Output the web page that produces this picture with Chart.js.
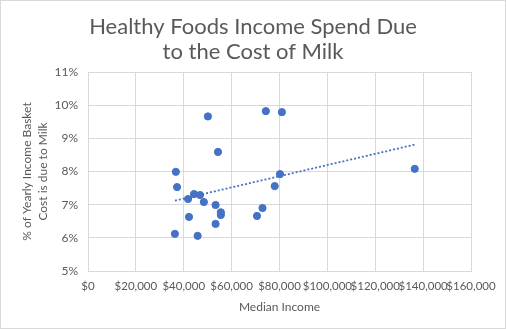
<!DOCTYPE html>
<html>
<head>
<meta charset="utf-8">
<script src="https://cdn.jsdelivr.net/npm/chart.js@4.4.0/dist/chart.umd.min.js"></script>
<style>
  html, body { margin: 0; padding: 0; background: #fff; }
  canvas { display: block; }
</style>
</head>
<body>
<canvas id="chart" width="506" height="329"></canvas>
<script>
// median income per area
const incomes = [50100, 54300, 36700, 37200, 44300, 46800, 41800, 48400, 53300, 55500, 55500, 42200, 53300, 36300, 45800, 70600, 72900, 74300, 81000, 80200, 78000, 136500];
// share of yearly income basket cost due to milk (%)
const milkShare = [9.66, 8.59, 7.99, 7.53, 7.32, 7.29, 7.17, 7.08, 6.99, 6.77, 6.69, 6.63, 6.42, 6.12, 6.06, 6.66, 6.90, 9.82, 9.79, 7.92, 7.56, 8.08];

const xTicks = [0, 20000, 40000, 60000, 80000, 100000, 120000, 140000, 160000];
const yTicks = [5, 6, 7, 8, 9, 10, 11];

const txt = "#595959";
const grid = "#d9d9d9";
const blue = "#4472C4";

const points = incomes.map((x, i) => ({ x: x, y: milkShare[i] }));

// linear trendline (least squares), like the spreadsheet one
function trend(xs, ys) {
  const n = xs.length;
  const mx = xs.reduce((a, b) => a + b, 0) / n;
  const my = ys.reduce((a, b) => a + b, 0) / n;
  let sxy = 0, sxx = 0;
  for (let i = 0; i < n; i++) {
    sxy += (xs[i] - mx) * (ys[i] - my);
    sxx += (xs[i] - mx) * (xs[i] - mx);
  }
  const b = sxy / sxx;
  const a = my - b * mx;
  const lo = Math.min(...xs), hi = Math.max(...xs);
  return [{ x: lo, y: a + b * lo }, { x: hi, y: a + b * hi }];
}

const frame = {
  id: "frame",
  beforeDraw(chart) {
    const c = chart.ctx;
    c.save();
    c.fillStyle = "#fff";
    c.fillRect(0, 0, chart.width, chart.height);
    c.strokeStyle = grid;
    c.lineWidth = 1;
    c.strokeRect(0.5, 0.5, chart.width - 1, chart.height - 1);
    c.restore();
  }
};

new Chart(document.getElementById("chart"), {
  type: "scatter",
  data: {
    datasets: [
      {
        label: "Milk",
        data: points,
        backgroundColor: blue,
        borderColor: blue,
        pointRadius: 3.6,
        pointHoverRadius: 3.6
      },
      {
        type: "line",
        label: "Trend",
        data: trend(incomes, milkShare),
        borderColor: blue,
        borderWidth: 1.8,
        borderDash: [2, 2],
        pointRadius: 0,
        fill: false
      }
    ]
  },
  options: {
    responsive: false,
    animation: false,
    layout: { padding: { left: 0, right: 0, top: 0, bottom: 11 } },
    plugins: {
      legend: { display: false },
      tooltip: { enabled: false },
      title: {
        display: true,
        text: ["Healthy Foods Income Spend Due", "to the Cost of Milk"],
        color: txt,
        font: { family: "Lato", size: 22, weight: "normal", lineHeight: "25px" },
        padding: { top: 14, bottom: 8 }
      }
    },
    scales: {
      x: {
        type: "linear",
        min: 0,
        max: 160000,
        afterBuildTicks: (s) => { s.ticks = xTicks.map(v => ({ value: v })); },
        afterFit: (s) => { s.height = 47; s.paddingRight = 35; },
        ticks: {
          color: txt,
          font: { family: "Lato", size: 11.5 },
          maxRotation: 0,
          autoSkip: false,
          padding: 8,
          callback: (v) => "$" + v.toLocaleString("en-US")
        },
        grid: { color: grid, drawTicks: false },
        border: { color: grid },
        title: {
          display: true,
          text: "Median Income",
          color: txt,
          font: { family: "Lato", size: 12 },
          padding: { top: 6, bottom: 4 }
        }
      },
      y: {
        min: 5,
        max: 11,
        afterBuildTicks: (s) => { s.ticks = yTicks.map(v => ({ value: v })); },
        afterFit: (s) => { s.width = 88; },
        ticks: {
          color: txt,
          font: { family: "Lato", size: 12 },
          padding: 10,
          callback: (v) => v + "%"
        },
        grid: { color: grid, drawTicks: false },
        border: { color: grid },
        title: {
          display: true,
          text: ["% of Yearly Income Basket", "Cost is due to Milk"],
          color: txt,
          font: { family: "Lato", size: 12, lineHeight: "16px" },
          padding: { top: 19, bottom: 0 }
        }
      }
    }
  },
  plugins: [frame]
});
</script>
</body>
</html>
